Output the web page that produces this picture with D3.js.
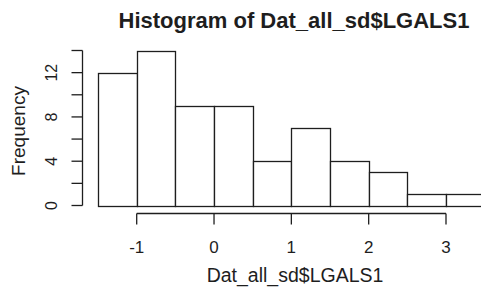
<!DOCTYPE html>
<html><head><meta charset="utf-8">
<script src="https://cdn.jsdelivr.net/npm/d3@7"></script>
<style>html,body{margin:0;padding:0;background:#fff;}svg{display:block;}text{font-family:"Liberation Sans",Arial,sans-serif;fill:#1e1e1e;}</style>
</head><body>
<svg id="c" width="481" height="290"></svg>
<script>
const binStarts = [-1.5, -1, -0.5, 0, 0.5, 1, 1.5, 2, 2.5, 3];
const binWidth = 0.5;
const counts = [12, 14, 9, 9, 4, 7, 4, 3, 1, 1];
const xTicks = [-1, 0, 1, 2, 3];
const yTicks = [0, 2, 4, 6, 8, 10, 12, 14];
const yTickLabels = [0, 4, 8, 12];
const title = "Histogram of Dat_all_sd$LGALS1";
const xLabel = "Dat_all_sd$LGALS1";
const yLabel = "Frequency";

const svg = d3.select("#c");
const x = d3.scaleLinear().domain([-1, 3]).range([136.7, 446]);
const y = d3.scaleLinear().domain([0, 14]).range([205.5, 50.5]);
const stroke = "#1e1e1e";
const sw = 1.3;

svg.append("g").selectAll("rect").data(binStarts).join("rect")
  .attr("x", d => Math.round(x(d)) + 0.5)
  .attr("y", (d, i) => Math.round(y(counts[i])) + 0.5)
  .attr("width", d => Math.round(x(d + binWidth)) - Math.round(x(d)))
  .attr("height", (d, i) => Math.round(y(0)) - Math.round(y(counts[i])))
  .attr("fill", "#fff").attr("stroke", stroke).attr("stroke-width", sw);

// x axis
const xa = svg.append("g").attr("transform", "translate(0,213.5)");
xa.append("line").attr("x1", x(-1)).attr("x2", x(3)).attr("stroke", stroke).attr("stroke-width", sw);
xa.selectAll("line.t").data(xTicks).join("line").attr("class", "t")
  .attr("x1", d => x(d)).attr("x2", d => x(d)).attr("y1", 0).attr("y2", 11)
  .attr("stroke", stroke).attr("stroke-width", sw);
xa.selectAll("text").data(xTicks).join("text")
  .attr("x", d => x(d)).attr("y", 39.5).attr("text-anchor", "middle")
  .attr("font-size", 17).text(d => d);

// y axis
const ya = svg.append("g").attr("transform", "translate(82.5,0)");
ya.append("line").attr("y1", y(0)).attr("y2", y(14)).attr("stroke", stroke).attr("stroke-width", sw);
ya.selectAll("line.t").data(yTicks).join("line").attr("class", "t")
  .attr("y1", d => y(d)).attr("y2", d => y(d)).attr("x1", 0).attr("x2", -11)
  .attr("stroke", stroke).attr("stroke-width", sw);
ya.selectAll("text").data(yTickLabels).join("text")
  .attr("transform", d => `translate(-25.5,${y(d)}) rotate(-90)`)
  .attr("text-anchor", "middle").attr("font-size", 16).text(d => d);

svg.append("text").attr("transform", "translate(25,131) rotate(-90)")
  .attr("text-anchor", "middle").attr("font-size", 19).text(yLabel);
svg.append("text").attr("x", 295).attr("y", 281.5).attr("text-anchor", "middle")
  .attr("font-size", 19.5).text(xLabel);
svg.append("text").attr("x", 294).attr("y", 28).attr("text-anchor", "middle")
  .attr("font-size", 22).attr("font-weight", "bold").text(title);
</script>
</body></html>
